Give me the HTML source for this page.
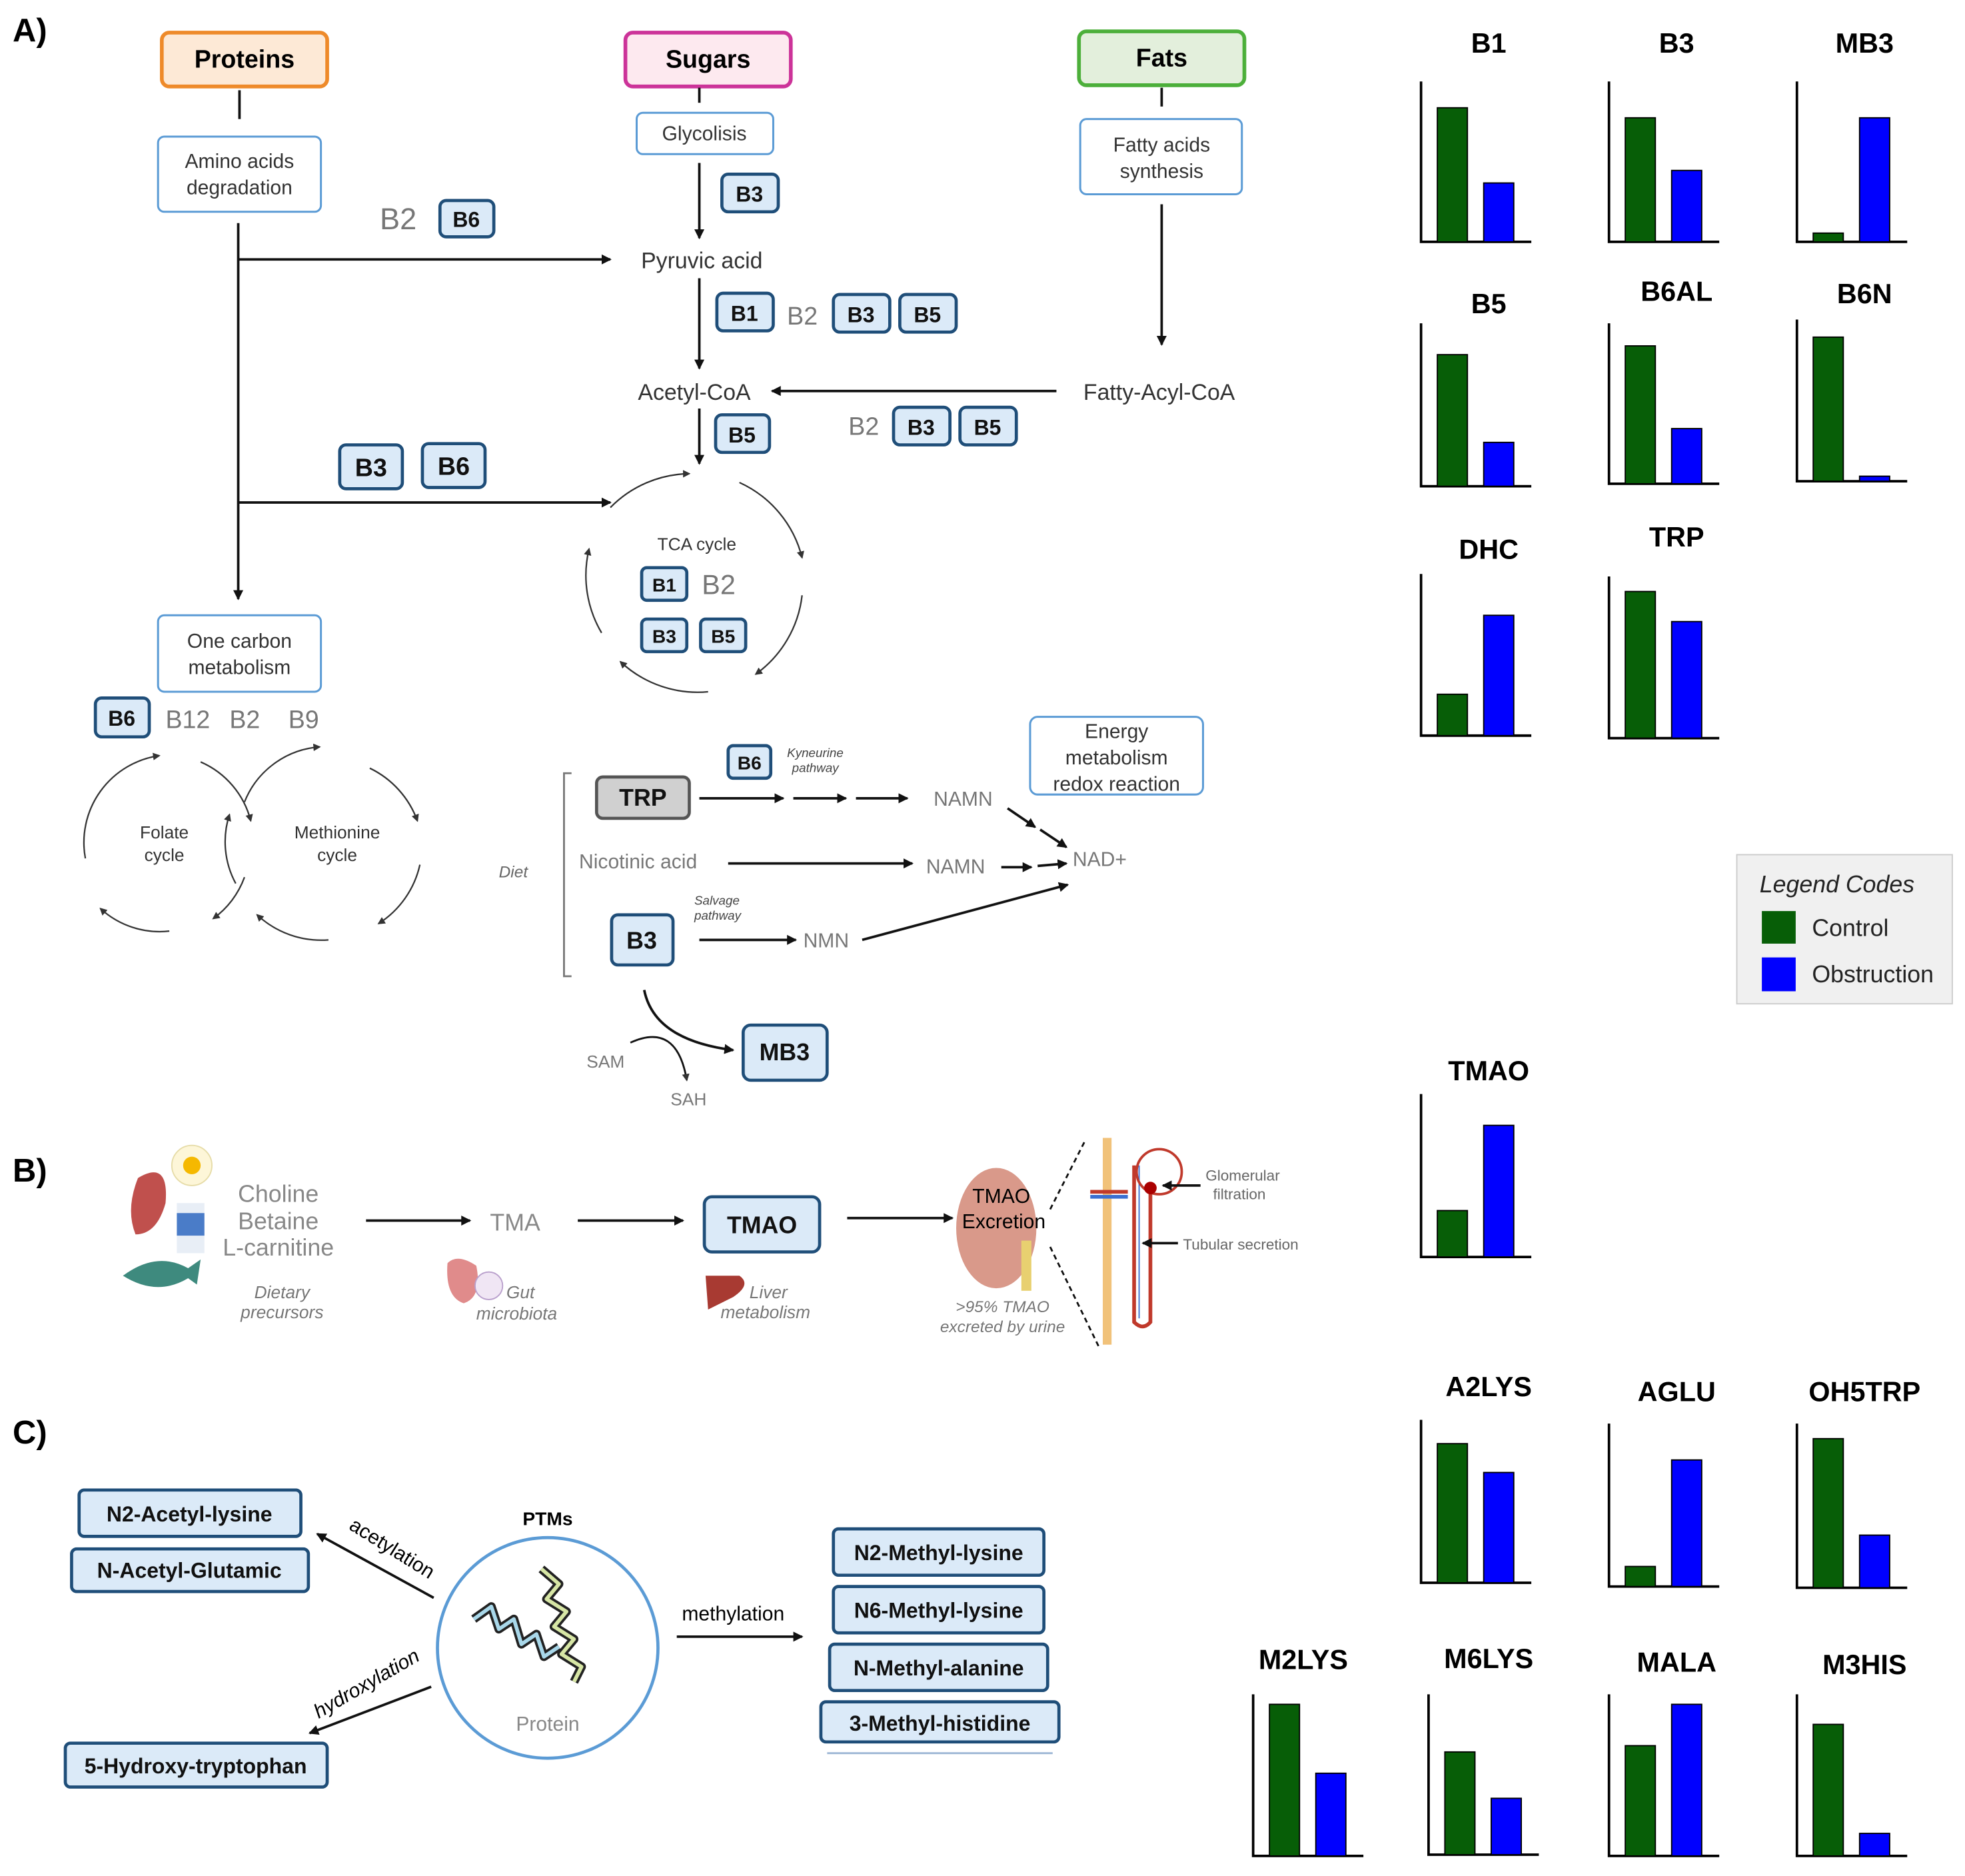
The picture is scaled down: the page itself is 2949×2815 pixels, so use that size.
<!DOCTYPE html>
<html><head><meta charset="utf-8"><style>
html,body{margin:0;padding:0;background:#fff}
svg{display:block}
text{font-family:"Liberation Sans",sans-serif}
.bb{fill:#dbeaf8;stroke:#1f4e79;stroke-width:2.5}
.bt{font-weight:bold;font-size:17px;fill:#111;text-anchor:middle}
.wb{fill:#fff;stroke:#5b9bd5;stroke-width:1.6}
.wt{font-size:16px;fill:#333;text-anchor:middle}
.gr{font-size:20px;fill:#777}
.ln{stroke:#111;stroke-width:2;fill:none}
.th{stroke:#333;stroke-width:1.2;fill:none}
.ct{font-size:22px;font-weight:bold;text-anchor:middle;fill:#000}
.ax{stroke:#000;stroke-width:2;fill:none}
.g{fill:#075e07;stroke:#000;stroke-width:1}
.b{fill:#0000ff;stroke:#000;stroke-width:1}
</style></head><body>
<svg width="2949" height="2815" viewBox="0 0 1568 1497" xmlns="http://www.w3.org/2000/svg">
<defs>
<marker id="a" markerWidth="8" markerHeight="8" refX="7" refY="4" orient="auto" markerUnits="userSpaceOnUse"><path d="M0,0 L8,4 L0,8 z" fill="#111"/></marker>
<marker id="s" markerWidth="6" markerHeight="6" refX="5" refY="3" orient="auto" markerUnits="userSpaceOnUse"><path d="M0,0 L6,3 L0,6 z" fill="#333"/></marker>
</defs>
<rect width="1568" height="1497" fill="#fff"/>

<text x="10" y="33" font-size="26" font-weight="bold">A)</text>
<text x="10" y="943" font-size="26" font-weight="bold">B)</text>
<text x="10" y="1152" font-size="26" font-weight="bold">C)</text>

<rect x="129" y="26" width="132" height="43" rx="6" fill="#fde9d6" stroke="#ee8a2a" stroke-width="3"/>
<text x="195" y="54" font-size="20" font-weight="bold" text-anchor="middle">Proteins</text>
<rect x="499" y="26" width="132" height="43" rx="6" fill="#fde9ef" stroke="#cc3399" stroke-width="3"/>
<text x="565" y="54" font-size="20" font-weight="bold" text-anchor="middle">Sugars</text>
<rect x="861" y="25" width="132" height="43" rx="6" fill="#e3efdc" stroke="#4caf3a" stroke-width="3"/>
<text x="927" y="53" font-size="20" font-weight="bold" text-anchor="middle">Fats</text>

<line x1="191" y1="72" x2="191" y2="95" class="ln"/>
<line x1="558" y1="70" x2="558" y2="82" class="ln"/>
<line x1="927" y1="70" x2="927" y2="85" class="ln"/>

<rect x="126" y="109" width="130" height="60" rx="5" class="wb"/>
<text x="191" y="134" class="wt">Amino acids</text><text x="191" y="155" class="wt">degradation</text>
<rect x="508" y="90" width="109" height="33" rx="5" class="wb"/>
<text x="562" y="112" class="wt">Glycolisis</text>
<rect x="862" y="95" width="129" height="60" rx="5" class="wb"/>
<text x="927" y="121" class="wt">Fatty acids</text><text x="927" y="142" class="wt">synthesis</text>

<line x1="190" y1="178" x2="190" y2="478" class="ln" marker-end="url(#a)"/>
<line x1="190" y1="207" x2="487" y2="207" class="ln" marker-end="url(#a)"/>
<line x1="190" y1="401" x2="487" y2="401" class="ln" marker-end="url(#a)"/>
<text x="303" y="183" class="gr" style="font-size:24px">B2</text>
<rect x="351" y="160" width="43" height="29" rx="5" class="bb"/><text x="372" y="181" class="bt">B6</text>
<rect x="271" y="355" width="50" height="35" rx="5" class="bb"/><text x="296" y="380" class="bt" style="font-size:20px">B3</text>
<rect x="337" y="354" width="50" height="35" rx="5" class="bb"/><text x="362" y="379" class="bt" style="font-size:20px">B6</text>

<line x1="558" y1="130" x2="558" y2="190" class="ln" marker-end="url(#a)"/>
<rect x="576" y="139" width="45" height="30" rx="5" class="bb"/><text x="598" y="161" class="bt">B3</text>
<text x="560" y="214" class="wt" style="font-size:18px">Pyruvic acid</text>
<line x1="558" y1="222" x2="558" y2="294" class="ln" marker-end="url(#a)"/>
<rect x="572" y="234" width="45" height="30" rx="5" class="bb"/><text x="594" y="256" class="bt">B1</text>
<text x="628" y="259" class="gr">B2</text>
<rect x="665" y="235" width="45" height="30" rx="5" class="bb"/><text x="687" y="257" class="bt">B3</text>
<rect x="718" y="235" width="45" height="30" rx="5" class="bb"/><text x="740" y="257" class="bt">B5</text>
<text x="554" y="319" class="wt" style="font-size:18px">Acetyl-CoA</text>
<line x1="558" y1="326" x2="558" y2="370" class="ln" marker-end="url(#a)"/>
<rect x="571" y="331" width="43" height="30" rx="5" class="bb"/><text x="592" y="353" class="bt">B5</text>

<line x1="927" y1="163" x2="927" y2="275" class="ln" marker-end="url(#a)"/>
<text x="925" y="319" class="wt" style="font-size:18px">Fatty-Acyl-CoA</text>
<line x1="843" y1="312" x2="616" y2="312" class="ln" marker-end="url(#a)"/>
<text x="677" y="347" class="gr">B2</text>
<rect x="713" y="325" width="45" height="30" rx="5" class="bb"/><text x="735" y="347" class="bt">B3</text>
<rect x="766" y="325" width="45" height="30" rx="5" class="bb"/><text x="788" y="347" class="bt">B5</text>

<path d="M487,405 A90,90 0 0 1 550,378" class="th" marker-end="url(#s)"/>
<path d="M590,385 A90,90 0 0 1 640,445" class="th" marker-end="url(#s)"/>
<path d="M640,475 A90,90 0 0 1 603,538" class="th" marker-end="url(#s)"/>
<path d="M565,552 A90,90 0 0 1 495,528" class="th" marker-end="url(#s)"/>
<path d="M480,505 A90,90 0 0 1 470,438" class="th" marker-end="url(#s)"/>
<text x="556" y="439" class="wt" style="font-size:14px">TCA cycle</text>
<rect x="512" y="453" width="36" height="26" rx="4" class="bb"/><text x="530" y="472" class="bt" style="font-size:15px">B1</text>
<text x="560" y="474" class="gr" style="font-size:22px">B2</text>
<rect x="512" y="494" width="36" height="26" rx="4" class="bb"/><text x="530" y="513" class="bt" style="font-size:15px">B3</text>
<rect x="559" y="494" width="36" height="26" rx="4" class="bb"/><text x="577" y="513" class="bt" style="font-size:15px">B5</text>

<rect x="126" y="491" width="130" height="61" rx="5" class="wb"/>
<text x="191" y="517" class="wt">One carbon</text><text x="191" y="538" class="wt">metabolism</text>
<rect x="76" y="557" width="43" height="31" rx="5" class="bb"/><text x="97" y="579" class="bt">B6</text>
<text x="132" y="581" class="gr">B12</text><text x="183" y="581" class="gr">B2</text><text x="230" y="581" class="gr">B9</text>
<path d="M68,685 A70,70 0 0 1 127,603" class="th" marker-end="url(#s)"/>
<path d="M160,608 A70,70 0 0 1 200,655" class="th" marker-end="url(#s)"/>
<path d="M195,700 A70,70 0 0 1 170,733" class="th" marker-end="url(#s)"/>
<path d="M135,743 A70,70 0 0 1 80,725" class="th" marker-end="url(#s)"/>
<path d="M188,705 A70,70 0 0 1 183,650" class="th" marker-end="url(#s)"/>
<path d="M195,640 A70,70 0 0 1 255,596" class="th" marker-end="url(#s)"/>
<path d="M295,613 A75,75 0 0 1 333,655" class="th" marker-end="url(#s)"/>
<path d="M335,690 A75,75 0 0 1 302,737" class="th" marker-end="url(#s)"/>
<path d="M262,750 A75,75 0 0 1 205,730" class="th" marker-end="url(#s)"/>
<text x="131" y="669" class="wt" style="font-size:14px">Folate</text><text x="131" y="687" class="wt" style="font-size:14px">cycle</text>
<text x="269" y="669" class="wt" style="font-size:14px">Methionine</text><text x="269" y="687" class="wt" style="font-size:14px">cycle</text>

<rect x="822" y="572" width="138" height="62" rx="6" class="wb"/>
<text x="891" y="589" class="wt">Energy</text><text x="891" y="610" class="wt">metabolism</text><text x="891" y="631" class="wt">redox reaction</text>
<path d="M456,617 L450,617 L450,779 L456,779" stroke="#777" stroke-width="1.5" fill="none"/>
<text x="398" y="700" font-size="13" font-style="italic" fill="#666">Diet</text>
<rect x="476" y="620" width="74" height="33" rx="5" fill="#d0d0d0" stroke="#555" stroke-width="2.5"/>
<text x="513" y="643" class="bt" style="font-size:19px">TRP</text>
<rect x="581" y="595" width="34" height="26" rx="4" class="bb"/><text x="598" y="614" class="bt" style="font-size:15px">B6</text>
<text x="628" y="604" font-size="10" font-style="italic" fill="#444">Kyneurine</text>
<text x="632" y="616" font-size="10" font-style="italic" fill="#444">pathway</text>
<line x1="558" y1="637" x2="625" y2="637" class="ln" marker-end="url(#a)"/>
<line x1="633" y1="637" x2="675" y2="637" class="ln" marker-end="url(#a)"/>
<line x1="683" y1="637" x2="724" y2="637" class="ln" marker-end="url(#a)"/>
<text x="745" y="643" class="gr" style="font-size:16px">NAMN</text>
<line x1="804" y1="645" x2="826" y2="660" class="ln" marker-end="url(#a)"/>
<line x1="830" y1="662" x2="851" y2="676" class="ln" marker-end="url(#a)"/>
<text x="462" y="693" class="gr" style="font-size:16px">Nicotinic acid</text>
<line x1="581" y1="689" x2="728" y2="689" class="ln" marker-end="url(#a)"/>
<text x="739" y="697" class="gr" style="font-size:16px">NAMN</text>
<line x1="799" y1="692" x2="823" y2="692" class="ln" marker-end="url(#a)"/>
<line x1="828" y1="691" x2="851" y2="689" class="ln" marker-end="url(#a)"/>
<text x="856" y="691" class="gr" style="font-size:16px">NAD+</text>
<rect x="488" y="730" width="49" height="40" rx="5" class="bb"/><text x="512" y="757" class="bt" style="font-size:19px">B3</text>
<text x="554" y="722" font-size="10" font-style="italic" fill="#444">Salvage</text>
<text x="554" y="734" font-size="10" font-style="italic" fill="#444">pathway</text>
<line x1="558" y1="750" x2="635" y2="750" class="ln" marker-end="url(#a)"/>
<text x="641" y="756" class="gr" style="font-size:16px">NMN</text>
<line x1="688" y1="750" x2="852" y2="706" class="ln" marker-end="url(#a)"/>
<path d="M514,790 Q522,830 585,838" class="ln" marker-end="url(#a)"/>
<path d="M503,832 Q540,815 548,862" stroke="#111" stroke-width="1.5" fill="none" marker-end="url(#s)"/>
<text x="468" y="852" class="gr" style="font-size:14px">SAM</text>
<text x="535" y="882" class="gr" style="font-size:14px">SAH</text>
<rect x="593" y="818" width="67" height="44" rx="6" class="bb"/><text x="626" y="846" class="bt" style="font-size:19px">MB3</text>

<path d="M110,940 Q135,925 132,960 Q125,985 108,985 Q100,965 110,940z" fill="#c0504d"/>
<circle cx="153" cy="930" r="16" fill="#fdf6d8" stroke="#e6dca8"/><circle cx="153" cy="930" r="7" fill="#f5b800"/>
<rect x="141" y="960" width="22" height="40" fill="#e8eef6"/><rect x="141" y="968" width="22" height="18" fill="#4a7cc8"/>
<path d="M98,1018 Q125,998 150,1012 L160,1005 L157,1025 L150,1020 Q125,1035 98,1018z" fill="#3e8a7e"/>
<text x="222" y="959" font-size="19" fill="#888" text-anchor="middle">Choline</text>
<text x="222" y="981" font-size="19" fill="#888" text-anchor="middle">Betaine</text>
<text x="222" y="1002" font-size="19" fill="#888" text-anchor="middle">L-carnitine</text>
<text x="225" y="1036" font-size="14" fill="#777" font-style="italic" text-anchor="middle">Dietary</text>
<text x="225" y="1052" font-size="14" fill="#777" font-style="italic" text-anchor="middle">precursors</text>
<line x1="292" y1="974" x2="375" y2="974" class="ln" marker-end="url(#a)"/>
<text x="411" y="982" font-size="19" fill="#888" text-anchor="middle">TMA</text>
<path d="M357,1008 Q365,1000 380,1010 Q385,1035 370,1040 Q355,1035 357,1008z" fill="#e08b8b"/>
<circle cx="390" cy="1026" r="11" fill="#f0e6f4" stroke="#b9a0cc"/>
<text x="404" y="1036" font-size="14" fill="#777" font-style="italic">Gut</text>
<text x="380" y="1053" font-size="14" fill="#777" font-style="italic">microbiota</text>
<line x1="461" y1="974" x2="545" y2="974" class="ln" marker-end="url(#a)"/>
<rect x="562" y="955" width="92" height="44" rx="6" class="bb"/><text x="608" y="984" class="bt" style="font-size:19px">TMAO</text>
<path d="M563,1018 L590,1018 Q600,1025 585,1035 L565,1045z" fill="#a83a32"/>
<text x="598" y="1036" font-size="14" fill="#777" font-style="italic">Liver</text>
<text x="575" y="1052" font-size="14" fill="#777" font-style="italic">metabolism</text>
<line x1="676" y1="972" x2="760" y2="972" class="ln" marker-end="url(#a)"/>
<ellipse cx="795" cy="980" rx="32" ry="48" fill="#d9998a"/>
<rect x="815" y="990" width="8" height="40" fill="#e8d070"/>
<text x="799" y="960" font-size="16" text-anchor="middle">TMAO</text>
<text x="801" y="980" font-size="16" text-anchor="middle">Excretion</text>
<text x="800" y="1047" font-size="13" fill="#777" font-style="italic" text-anchor="middle">&gt;95% TMAO</text>
<text x="800" y="1063" font-size="13" fill="#777" font-style="italic" text-anchor="middle">excreted by urine</text>
<line x1="838" y1="965" x2="866" y2="910" stroke="#111" stroke-dasharray="4,3" stroke-width="1.5"/>
<line x1="838" y1="995" x2="877" y2="1075" stroke="#111" stroke-dasharray="4,3" stroke-width="1.5"/>
<rect x="880" y="908" width="7" height="165" fill="#f1c27a"/>
<path d="M905,930 L905,1055 Q912,1062 918,1055 L918,950" stroke="#c0392b" stroke-width="3" fill="none"/>
<path d="M909,930 L909,1052" stroke="#3b6fd1" stroke-width="1" fill="none"/>
<circle cx="925" cy="935" r="18" fill="none" stroke="#c0392b" stroke-width="2"/>
<circle cx="918" cy="948" r="5" fill="#a00"/>
<line x1="870" y1="955" x2="900" y2="955" stroke="#3b6fd1" stroke-width="3"/>
<line x1="870" y1="951" x2="900" y2="951" stroke="#c0392b" stroke-width="3"/>
<line x1="958" y1="946" x2="928" y2="946" class="ln" marker-end="url(#a)"/>
<text x="962" y="942" font-size="12" fill="#666">Glomerular</text>
<text x="968" y="957" font-size="12" fill="#666">filtration</text>
<line x1="940" y1="992" x2="912" y2="992" class="ln" marker-end="url(#a)"/>
<text x="944" y="997" font-size="12" fill="#666">Tubular secretion</text>

<rect x="63" y="1189" width="177" height="37" rx="4" class="bb"/><text x="151" y="1214" class="bt">N2-Acetyl-lysine</text>
<rect x="57" y="1236" width="189" height="34" rx="4" class="bb"/><text x="151" y="1259" class="bt">N-Acetyl-Glutamic</text>
<rect x="52" y="1391" width="209" height="35" rx="4" class="bb"/><text x="156" y="1415" class="bt">5-Hydroxy-tryptophan</text>
<rect x="665" y="1220" width="168" height="37" rx="4" class="bb"/><text x="749" y="1245" class="bt">N2-Methyl-lysine</text>
<rect x="665" y="1266" width="168" height="37" rx="4" class="bb"/><text x="749" y="1291" class="bt">N6-Methyl-lysine</text>
<rect x="662" y="1312" width="174" height="37" rx="4" class="bb"/><text x="749" y="1337" class="bt">N-Methyl-alanine</text>
<rect x="655" y="1358" width="190" height="32" rx="4" class="bb"/><text x="750" y="1381" class="bt">3-Methyl-histidine</text>
<line x1="660" y1="1399" x2="840" y2="1399" stroke="#9db7d5" stroke-width="1.5"/>
<text x="437" y="1217" font-size="15" font-weight="bold" text-anchor="middle">PTMs</text>
<circle cx="437" cy="1315" r="88" fill="#fff" stroke="#5b9bd5" stroke-width="2.5"/>
<path d="M378,1292 L392,1282 L398,1300 L410,1292 L416,1312 L428,1304 L434,1322 L446,1314" stroke="#222" stroke-width="7" fill="none" stroke-linejoin="round"/>
<path d="M378,1292 L392,1282 L398,1300 L410,1292 L416,1312 L428,1304 L434,1322 L446,1314" stroke="#a9d8ea" stroke-width="3" fill="none" stroke-linejoin="round"/>
<path d="M432,1252 L446,1264 L436,1276 L452,1286 L442,1298 L458,1308 L448,1320 L464,1330 L458,1342" stroke="#222" stroke-width="7" fill="none" stroke-linejoin="round"/>
<path d="M432,1252 L446,1264 L436,1276 L452,1286 L442,1298 L458,1308 L448,1320 L464,1330 L458,1342" stroke="#d7e6a5" stroke-width="3" fill="none" stroke-linejoin="round"/>
<text x="437" y="1381" font-size="16" fill="#888" text-anchor="middle">Protein</text>
<line x1="346" y1="1275" x2="253" y2="1224" class="ln" marker-end="url(#a)"/>
<text x="310" y="1240" font-size="16" transform="rotate(32 310 1240)" text-anchor="middle">acetylation</text>
<line x1="344" y1="1346" x2="247" y2="1383" class="ln" marker-end="url(#a)"/>
<text x="295" y="1348" font-size="16" font-style="italic" transform="rotate(-30 295 1348)" text-anchor="middle">hydroxylation</text>
<line x1="540" y1="1306" x2="640" y2="1306" class="ln" marker-end="url(#a)"/>
<text x="585" y="1293" font-size="16" text-anchor="middle">methylation</text>

<g>
<text x="1188" y="42" class="ct">B1</text><path d="M1134,65 V193 H1222" class="ax"/><rect x="1147" y="86" width="24" height="107" class="g"/><rect x="1184" y="146" width="24" height="47" class="b"/>
<text x="1338" y="42" class="ct">B3</text><path d="M1284,65 V193 H1372" class="ax"/><rect x="1297" y="94" width="24" height="99" class="g"/><rect x="1334" y="136" width="24" height="57" class="b"/>
<text x="1488" y="42" class="ct">MB3</text><path d="M1434,65 V193 H1522" class="ax"/><rect x="1447" y="186" width="24" height="7" class="g"/><rect x="1484" y="94" width="24" height="99" class="b"/>
<text x="1188" y="250" class="ct">B5</text><path d="M1134,258 V388 H1222" class="ax"/><rect x="1147" y="283" width="24" height="105" class="g"/><rect x="1184" y="353" width="24" height="35" class="b"/>
<text x="1338" y="240" class="ct">B6AL</text><path d="M1284,258 V386 H1372" class="ax"/><rect x="1297" y="276" width="24" height="110" class="g"/><rect x="1334" y="342" width="24" height="44" class="b"/>
<text x="1488" y="242" class="ct">B6N</text><path d="M1434,255 V384 H1522" class="ax"/><rect x="1447" y="269" width="24" height="115" class="g"/><rect x="1484" y="380" width="24" height="4" class="b"/>
<text x="1188" y="446" class="ct">DHC</text><path d="M1134,458 V587 H1222" class="ax"/><rect x="1147" y="554" width="24" height="33" class="g"/><rect x="1184" y="491" width="24" height="96" class="b"/>
<text x="1338" y="436" class="ct">TRP</text><path d="M1284,460 V589 H1372" class="ax"/><rect x="1297" y="472" width="24" height="117" class="g"/><rect x="1334" y="496" width="24" height="93" class="b"/>
<text x="1188" y="862" class="ct">TMAO</text><path d="M1134,873 V1003 H1222" class="ax"/><rect x="1147" y="966" width="24" height="37" class="g"/><rect x="1184" y="898" width="24" height="105" class="b"/>
<text x="1188" y="1114" class="ct">A2LYS</text><path d="M1134,1133 V1263 H1222" class="ax"/><rect x="1147" y="1152" width="24" height="111" class="g"/><rect x="1184" y="1175" width="24" height="88" class="b"/>
<text x="1338" y="1118" class="ct">AGLU</text><path d="M1284,1136 V1266 H1372" class="ax"/><rect x="1297" y="1250" width="24" height="16" class="g"/><rect x="1334" y="1165" width="24" height="101" class="b"/>
<text x="1488" y="1118" class="ct">OH5TRP</text><path d="M1434,1136 V1267 H1522" class="ax"/><rect x="1447" y="1148" width="24" height="119" class="g"/><rect x="1484" y="1225" width="24" height="42" class="b"/>
<text x="1040" y="1332" class="ct">M2LYS</text><path d="M1000,1352 V1481 H1088" class="ax"/><rect x="1013" y="1360" width="24" height="121" class="g"/><rect x="1050" y="1415" width="24" height="66" class="b"/>
<text x="1188" y="1331" class="ct">M6LYS</text><path d="M1140,1352 V1480 H1228" class="ax"/><rect x="1153" y="1398" width="24" height="82" class="g"/><rect x="1190" y="1435" width="24" height="45" class="b"/>
<text x="1338" y="1334" class="ct">MALA</text><path d="M1284,1352 V1481 H1372" class="ax"/><rect x="1297" y="1393" width="24" height="88" class="g"/><rect x="1334" y="1360" width="24" height="121" class="b"/>
<text x="1488" y="1336" class="ct">M3HIS</text><path d="M1434,1352 V1481 H1522" class="ax"/><rect x="1447" y="1376" width="24" height="105" class="g"/><rect x="1484" y="1463" width="24" height="18" class="b"/>
</g>

<rect x="1386" y="682" width="172" height="119" fill="#f0f0f0" stroke="#ccc"/>
<text x="1466" y="712" font-size="19" font-style="italic" text-anchor="middle" fill="#222">Legend Codes</text>
<rect x="1406" y="727" width="27" height="26" fill="#075e07"/>
<text x="1446" y="747" font-size="19" fill="#222">Control</text>
<rect x="1406" y="764" width="27" height="27" fill="#0000ff"/>
<text x="1446" y="784" font-size="19" fill="#222">Obstruction</text>
</svg>
</body></html>
